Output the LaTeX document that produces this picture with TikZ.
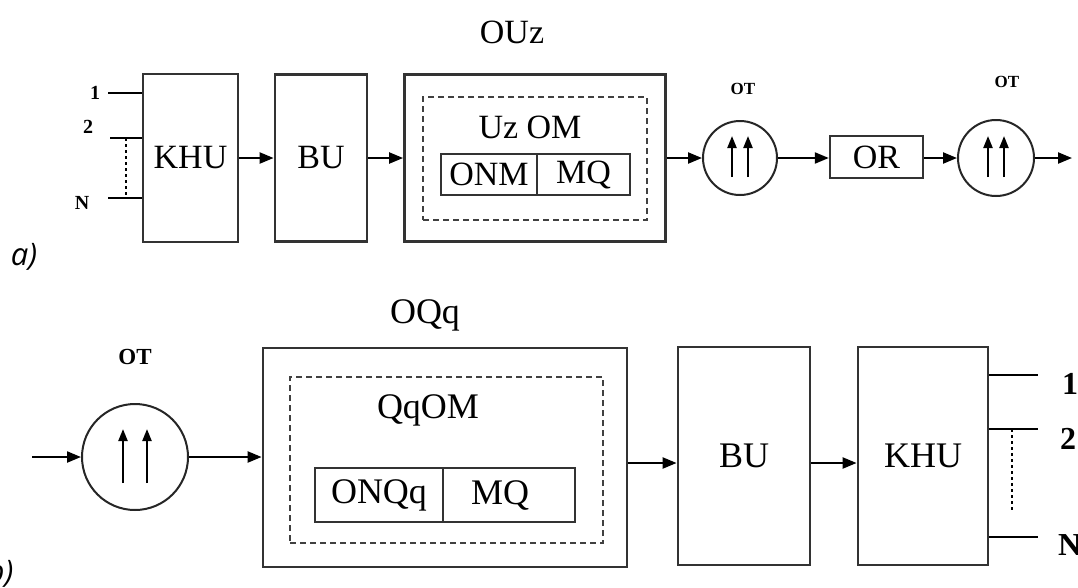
\documentclass[tikz,border=0pt]{standalone}
\usepackage{fontspec}
\setmainfont{Liberation Serif}
\newfontfamily\lblfont{Open Sans}
\usetikzlibrary{arrows.meta}
\begin{document}
\begin{tikzpicture}[x=1pt,y=-1pt,
  blk/.style={draw=black!80,line width=2.8pt,inner sep=0pt},
  inbox/.style={draw=black!80,line width=2.2pt,inner sep=0pt},
  dashbox/.style={draw=black!75,line width=1.8pt,dash pattern=on 6pt off 4pt},
  conn/.style={line width=2.2pt,-{Triangle[length=14pt,width=11pt]}},
  plain/.style={line width=2.2pt},
  dots/.style={line width=1.8pt,dash pattern=on 3pt off 3pt},
  circ/.style={circle,draw=black!85,line width=2pt,inner sep=0pt},
  upar/.style={line width=2.2pt,-{Triangle[length=12pt,width=9pt]}},
  ttop/.style={font=\fontsize{34}{34}\selectfont},
  tbot/.style={font=\fontsize{36}{36}\selectfont},
  otl/.style={font=\bfseries\fontsize{17}{17}\selectfont},
  numt/.style={font=\bfseries\fontsize{20}{20}\selectfont},
  numb/.style={font=\bfseries\fontsize{32}{32}\selectfont}
]
\useasboundingbox (0,0) rectangle (1078,587);

% ---------- a) ----------
\node[blk,minimum width=95pt,minimum height=168pt,ttop] (khuA) at (190.5,158) {KHU};
\node[blk,minimum width=92pt,minimum height=167pt,ttop] (buA) at (321,158) {BU};
\node[blk,minimum width=261pt,minimum height=167pt] (ouz) at (535,158) {};
\node[dashbox,minimum width=224pt,minimum height=123pt] (dashA) at (535,158.5) {};
\node[ttop] (ouzlbl) at (512,32) {OUz};
\node[ttop] (uzom) at (530,127) {Uz OM};
\node[inbox,minimum width=96pt,minimum height=41pt,ttop] (onm) at (489,174.5) {ONM};
\node[inbox,minimum width=93pt,minimum height=41pt,ttop] (mqA) at (583.5,174.5) {MQ};
\node[circ,minimum size=74pt] (c1) at (740,158) {};
\node[otl] (ot1) at (743,89) {OT};
\node[blk,line width=2.4pt,minimum width=93pt,minimum height=42pt,ttop] (or) at (876.5,157) {OR};
\node[circ,minimum size=76pt] (c2) at (996,158) {};
\node[otl] (ot2) at (1007,82) {OT};
\coordinate (outA) at (1072,158);

\draw[conn] (khuA) -- (buA);
\draw[conn] (buA) -- (ouz);
\draw[conn] (ouz) -- (c1);
\draw[conn] (c1) -- (or.west |- c1);
\draw[conn] (or.east |- c2) -- (c2);
\draw[conn] (c2) -- (outA);

\foreach \c in {c1,c2}{
  \draw[upar] ([shift={(-8,19)}]\c.center) -- ([shift={(-8,-22)}]\c.center);
  \draw[upar] ([shift={(8,19)}]\c.center) -- ([shift={(8,-22)}]\c.center);
}

\coordinate (i1) at (108,93);
\coordinate (i2) at (110,138);
\coordinate (iN) at (108,198);
\draw[plain] (i1) -- (i1 -| khuA.west);
\draw[plain] (i2) -- (i2 -| khuA.west);
\draw[plain] (iN) -- (iN -| khuA.west);
\coordinate (d1) at (126,138);
\coordinate (d2) at (126,198);
\draw[dots] (d1) -- (d2);
\node[numt] (n1) at (95,93) {1};
\node[numt] (n2) at (88,127) {2};
\node[numt] (nN) at (82,203) {N};
\node[font=\lblfont\itshape\fontsize{31}{31}\selectfont] (la) at (24,257) {a)};

% ---------- b) ----------
\node[circ,minimum size=106pt] (cb) at (135,457) {};
\node[otl,font=\bfseries\fontsize{23}{23}\selectfont] (otb) at (135,357) {OT};
\coordinate (inB) at (32,457);
\node[blk,minimum width=364pt,minimum height=219pt] (oqq) at (445,457.5) {};
\node[dashbox,minimum width=313pt,minimum height=166pt] (dashB) at (446.5,460) {};
\node[tbot] (oqqlbl) at (425,315) {OQq};
\node[tbot] (qqom) at (428,410) {QqOM};
\node[inbox,minimum width=128pt,minimum height=54pt,tbot] (onqq) at (379,495) {ONQq};
\node[inbox,minimum width=132pt,minimum height=54pt] (mqB) at (509,495) {};
\node[tbot] (mqBt) at (500,495) {MQ};
\node[blk,minimum width=132pt,minimum height=218pt,tbot] (buB) at (744,456) {BU};
\node[blk,minimum width=130pt,minimum height=218pt,tbot] (khuB) at (923,456) {KHU};
\coordinate (yb) at (0,463);

\draw[conn] (inB) -- (cb);
\draw[conn] (cb) -- (cb -| oqq.west);
\draw[conn] (oqq.east |- yb) -- (buB.west |- yb);
\draw[conn] (buB.east |- yb) -- (khuB.west |- yb);
\draw[upar] ([shift={(-12,26)}]cb.center) -- ([shift={(-12,-28)}]cb.center);
\draw[upar] ([shift={(12,26)}]cb.center) -- ([shift={(12,-28)}]cb.center);

\coordinate (o1) at (1038,375);
\coordinate (o2) at (1038,429);
\coordinate (oN) at (1038,537);
\draw[plain] (o1 -| khuB.east) -- (o1);
\draw[plain] (o2 -| khuB.east) -- (o2);
\draw[plain] (oN -| khuB.east) -- (oN);
\coordinate (e1) at (1012,429);
\coordinate (e2) at (1012,512);
\draw[dots] (e1) -- (e2);
\node[numb,anchor=north west,inner sep=0pt] (m1) at (1062,373) {1};
\node[numb,anchor=north west,inner sep=0pt] (m2) at (1060,428) {2};
\node[numb,anchor=north west,inner sep=0pt] (mN) at (1058,534) {N};
\node[font=\lblfont\itshape\fontsize{31}{31}\selectfont,anchor=east] (lb) at (17,573) {b)};
\end{tikzpicture}
\end{document}
